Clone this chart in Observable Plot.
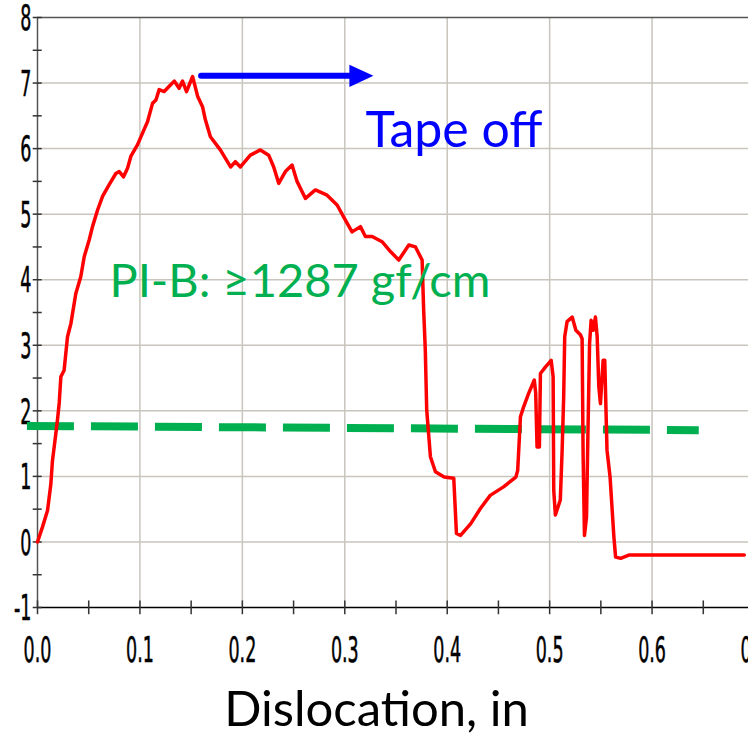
<!DOCTYPE html>
<html><head><meta charset="utf-8">
<script src="https://cdn.jsdelivr.net/npm/d3@7"></script>
<script src="https://cdn.jsdelivr.net/npm/@observablehq/plot@0.6"></script>
<style>body{margin:0;background:#fff}</style>
</head><body><div id="chart"></div>
<script>
// Red trace: dislocation (in) vs load
const dislocation = [0,0.0049,0.0098,0.013,0.0146,0.0163,0.0195,0.0212,0.0228,0.026,0.0293,0.0326,0.0374,0.0423,0.0456,0.0505,0.0537,0.0586,0.0635,0.07,0.0765,0.0798,0.084,0.0879,0.0911,0.0977,0.104,0.1074,0.1123,0.1156,0.1188,0.1237,0.1286,0.1335,0.1383,0.1416,0.1455,0.1514,0.1563,0.1611,0.1639,0.1688,0.1785,0.1885,0.1932,0.1981,0.2078,0.2176,0.2257,0.2306,0.2355,0.242,0.2485,0.2534,0.2616,0.2713,0.2827,0.2925,0.3006,0.3071,0.3153,0.3201,0.3267,0.3364,0.3446,0.3527,0.3625,0.369,0.3755,0.377,0.3786,0.380,0.3836,0.3885,0.397,0.4064,0.409,0.413,0.423,0.4324,0.442,0.455,0.467,0.4688,0.4715,0.4746,0.4796,0.485,0.4864,0.4877,0.4900,0.4910,0.496,0.5015,0.5034,0.504,0.5056,0.5104,0.5122,0.5137,0.5147,0.517,0.522,0.5256,0.530,0.5317,0.5327,0.534,0.536,0.5372,0.539,0.5405,0.5425,0.5447,0.5464,0.548,0.5496,0.5522,0.5538,0.556,0.559,0.5627,0.5644,0.5693,0.5773,0.69];
const load = [0,0.23,0.48,0.88,1.24,1.45,1.86,2.12,2.52,2.62,3.13,3.33,3.79,4.05,4.35,4.61,4.81,5.06,5.27,5.45,5.62,5.65,5.57,5.7,5.88,6.06,6.29,6.41,6.69,6.74,6.9,6.87,6.95,7.03,6.92,7.03,6.87,7.1,6.8,6.64,6.44,6.18,5.98,5.72,5.8,5.72,5.9,5.98,5.9,5.72,5.47,5.65,5.75,5.5,5.24,5.37,5.29,5.14,4.91,4.73,4.81,4.66,4.66,4.58,4.43,4.3,4.53,4.5,4.3,3.54,2.93,2.01,1.3,1.07,0.99,0.97,0.13,0.1,0.28,0.51,0.71,0.84,0.99,1.09,1.91,2.06,2.27,2.47,2.27,1.45,1.45,2.57,2.67,2.77,2.52,0.79,0.41,0.64,1.4,2.21,3.13,3.36,3.43,3.23,3.16,3.1,1.3,0.1,0.38,1.5,3.03,3.38,3.23,3.43,3.13,2.37,2.11,2.77,2.77,1.4,0.99,0.08,-0.23,-0.25,-0.2,-0.2];

// Green dashed threshold line
const thresholdX = [-0.0103, 0.6456];
const thresholdY = [1.77, 1.705];

// Axes ticks
const xTicks = [0,0.1,0.2,0.3,0.4,0.5,0.6,0.7];
const xTickLabels = ["0.0","0.1","0.2","0.3","0.4","0.5","0.6","0.7"];
const xMinorTicks = [0,0.05,0.1,0.15,0.2,0.25,0.3,0.35,0.4,0.45,0.5,0.55,0.6,0.65,0.7];
const yTicks = [-1,0,1,2,3,4,5,6,7,8];
const yTickLabels = ["-1","0","1","2","3","4","5","6","7","8"];
const yMinorTicks = [-1,-0.5,0,0.5,1,1.5,2,2.5,3,3.5,4,4.5,5,5.5,6,6.5,7,7.5,8];
const gridX = [0.1,0.2,0.3,0.4,0.5,0.6];
const gridY = [0,1,2,3,4,5,6,7];

// Annotations
const arrowShaftX = [0.1597, 0.3045];
const arrowShaftY = [7.11, 7.11];
const arrowHeadX = [0.3045, 0.328, 0.3045];
const arrowHeadY = [7.28, 7.11, 6.94];
const notes = [
  {x: 0.3203, y: 6.03, text: "Tape off", color: "#0000FF", size: 50},
  {x: 0.0702, y: 3.74, text: "PI-B: ≥1287 gf/cm", color: "#00B050", size: 47}
];
const xLabel = "Dislocation, in";

const curve = dislocation.map((x, i) => ({x, y: load[i]}));
const threshold = thresholdX.map((x, i) => ({x, y: thresholdY[i]}));
const shaft = arrowShaftX.map((x, i) => ({x, y: arrowShaftY[i]}));
const head = arrowHeadX.map((x, i) => ({x, y: arrowHeadY[i]}));

const chart = Plot.plot({
  width: 748,
  height: 734,
  marginLeft: 37,
  marginRight: -6,
  marginTop: 17,
  marginBottom: 127,
  x: {domain: [0, 0.7], axis: null},
  y: {domain: [-1, 8], axis: null},
  style: {background: "#fff", overflow: "hidden"},
  marks: [
    Plot.ruleX(gridX, {x: d => d, y1: -1, y2: 8, stroke: "#c9c5bd", strokeWidth: 1.5}),
    Plot.ruleY(gridY, {y: d => d, x1: 0, x2: 0.7, stroke: "#c9c5bd", strokeWidth: 1.5}),
    Plot.ruleY([8], {y: d => d, x1: 0, x2: 0.7, stroke: "#555", strokeWidth: 1.5}),
    Plot.ruleX([0], {x: d => d, y1: -1, y2: 8, stroke: "#555", strokeWidth: 1.5}),
    Plot.ruleY([-1], {y: d => d, x1: 0, x2: 0.7, stroke: "#000", strokeWidth: 1.5}),
    Plot.ruleY(yMinorTicks, {y: d => d, x1: -0.0042, x2: 0.0046, stroke: "#333", strokeWidth: 1.5}),
    Plot.ruleX(xMinorTicks, {x: d => d, y1: -1.11, y2: -0.9, stroke: "#333", strokeWidth: 1.5}),
    Plot.text(xTicks, {x: d => d, y: -1, dy: 43.5, text: (d, i) => xTickLabels[i], fontFamily: "DejaVu Sans", fontSize: 35, fill: "#000", stroke: "#000", strokeWidth: 0.6, textAnchor: "middle", lineAnchor: "middle"}),
    Plot.text(yTicks, {x: 0, y: d => d, dx: -6, dy: 1.5, text: (d, i) => yTickLabels[i], fontFamily: "DejaVu Sans", fontSize: 35, fill: "#000", stroke: "#000", strokeWidth: 0.6, textAnchor: "end", lineAnchor: "middle"}),
    Plot.line(threshold, {x: "x", y: "y", stroke: "#00B050", strokeWidth: 8, strokeDasharray: "47,17", strokeLinecap: "butt"}),
    Plot.line(curve, {x: "x", y: "y", stroke: "#FF0000", strokeWidth: 3.5, strokeLinejoin: "round"}),
    Plot.line(shaft, {x: "x", y: "y", stroke: "#0000FF", strokeWidth: 6}),
    Plot.line(head, {x: "x", y: "y", fill: "#0000FF", stroke: "none"}),
    Plot.text(notes.slice(0, 1), {x: "x", y: "y", text: "text", fill: "color", fontFamily: "Lato", fontSize: notes[0].size, textAnchor: "start", lineAnchor: "bottom"}),
    Plot.text(notes.slice(1), {x: "x", y: "y", text: "text", fill: "color", fontFamily: "Lato", fontSize: notes[1].size, textAnchor: "start", lineAnchor: "bottom"}),
    Plot.text([xLabel], {x: 0.331, frameAnchor: "bottom", dy: 118, text: d => d, fontFamily: "Lato", fontSize: 49, fill: "#000", textAnchor: "middle", lineAnchor: "bottom"})
  ]
});

// Condense the tick-label glyphs horizontally (the original uses a narrow face)
const textGroups = chart.querySelectorAll('g[aria-label="text"]');
[textGroups[0], textGroups[1]].forEach(g => {
  if (!g) return;
  g.querySelectorAll("text").forEach(t => {
    const tr = t.getAttribute("transform") || "";
    const ax = +(t.getAttribute("x") || 0);
    t.setAttribute("transform", `${tr} translate(${ax},0) scale(0.5,1) translate(${-ax},0)`);
  });
});
document.getElementById("chart").appendChild(chart);
</script>
</body></html>
